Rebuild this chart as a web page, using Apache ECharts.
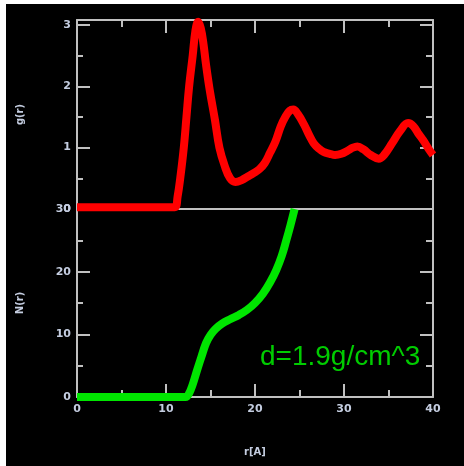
<!DOCTYPE html>
<html>
<head>
<meta charset="utf-8">
<script src="https://cdn.jsdelivr.net/npm/echarts@6/dist/echarts.min.js"></script>
<style>
html,body{margin:0;padding:0;background:#ffffff;width:464px;height:466px;overflow:hidden;}
#c{position:absolute;left:6px;top:4px;width:458px;height:462px;background:#000;}
</style>
</head>
<body>
<div id="c"></div>
<script>
// g(r) data
var rG = [0, 2, 4, 6, 8, 10, 11.0, 11.3, 11.6, 12.0, 12.3, 12.6, 13.0, 13.3, 13.6, 13.9, 14.2, 14.5, 14.9, 15.5, 16.0, 16.6, 17.2, 17.8, 18.5, 19.2, 19.8, 20.5, 21.1, 21.7, 22.3, 22.9, 23.4, 23.9, 24.3, 24.8, 25.5, 26.1, 26.6, 27.2, 27.7, 28.4, 29.0, 29.7, 30.4, 31.0, 31.5, 32.2, 33.0, 33.9, 34.5, 35.4, 36.3, 37.2, 37.8, 38.4, 38.9, 39.5, 40];
var gVals = [0.03, 0.03, 0.03, 0.03, 0.03, 0.03, 0.03, 0.2, 0.5, 1.0, 1.5, 2.0, 2.5, 2.9, 3.05, 2.95, 2.7, 2.35, 1.95, 1.45, 1.0, 0.7, 0.5, 0.44, 0.47, 0.53, 0.58, 0.65, 0.75, 0.92, 1.1, 1.35, 1.5, 1.6, 1.62, 1.55, 1.38, 1.2, 1.07, 0.98, 0.93, 0.9, 0.88, 0.9, 0.95, 1.0, 1.02, 0.97, 0.88, 0.82, 0.88, 1.07, 1.27, 1.40, 1.35, 1.22, 1.12, 0.98, 0.88];
// N(r) data
var rN = [0, 4, 8, 12.2, 12.6, 13.0, 13.5, 14.0, 14.5, 15.0, 15.6, 16.3, 17.2, 18.2, 19.1, 20.0, 20.9, 21.7, 22.4, 23.0, 23.5, 24.0, 24.45];
var nVals = [0, 0, 0, 0, 0.6, 2, 4.3, 6.5, 8.6, 9.9, 10.9, 11.7, 12.4, 13.1, 13.9, 15.0, 16.5, 18.3, 20.3, 22.5, 24.9, 27.5, 30];
// tick labels
var xLabels = [0, 10, 20, 30, 40];
var xMajor = [10, 20, 30];
var xMinor = [5, 15, 25, 35];
var gLabels = [0, 1, 2, 3];
var gMajor = [1, 2, 3];
var gMinor = [0.5, 1.5, 2.5];
var nLabels = [0, 10, 20, 30];
var nMajor = [10, 20];
var nMinor = [5, 15, 25];
var annotation = 'd=1.9g/cm^3';

var AX = '#c0c0c0';
var LBL = '#c4cde0';
var labelFont = {color: LBL, fontFamily: 'DejaVu Sans', fontWeight: 'bold', fontSize: 11};

function xAx(grid, pos, opts) {
  return Object.assign({
    type: 'value', gridIndex: grid, position: pos, min: 0, max: 40,
    axisLine: {show: false, onZero: false, lineStyle: {color: AX, width: 2}},
    axisTick: {show: false},
    axisLabel: {show: false},
    splitLine: {show: false}
  }, opts);
}
function yAx(grid, pos, max, opts) {
  return Object.assign({
    type: 'value', gridIndex: grid, position: pos, min: 0, max: max,
    axisLine: {show: false, onZero: false, lineStyle: {color: AX, width: 2}},
    axisTick: {show: false},
    axisLabel: {show: false},
    splitLine: {show: false}
  }, opts);
}
function ticks(vals, len) {
  return {show: true, inside: true, length: len, customValues: vals, lineStyle: {color: AX, width: 2}};
}
var line = {show: true, onZero: false, lineStyle: {color: AX, width: 2}};

var xAxes = [
  // grid 0
  xAx(0, 'bottom', {axisLine: line}),
  xAx(0, 'top', {axisLine: line, axisTick: ticks(xMajor, 13)}),
  xAx(0, 'top', {axisTick: ticks(xMinor, 7)}),
  // grid 1
  xAx(1, 'bottom', {axisLine: line, axisTick: ticks(xMajor, 13),
    axisLabel: Object.assign({show: true, margin: 7, customValues: xLabels}, labelFont),
    name: 'r[A]', nameLocation: 'middle', nameGap: 50,
    nameTextStyle: {color: LBL, fontFamily: 'DejaVu Sans', fontWeight: 'bold', fontSize: 10}}),
  xAx(1, 'bottom', {axisTick: ticks(xMinor, 7)}),
  xAx(1, 'top', {axisLine: line})
];
var yAxes = [
  // grid 0
  yAx(0, 'left', 3.08, {axisLine: line, axisTick: ticks(gMajor, 13),
    axisLabel: Object.assign({show: true, margin: 6, customValues: gLabels}, labelFont),
    name: 'g(r)', nameLocation: 'middle', nameGap: 52,
    nameTextStyle: {color: LBL, fontFamily: 'DejaVu Sans', fontWeight: 'bold', fontSize: 10}}),
  yAx(0, 'left', 3.08, {axisTick: ticks(gMinor, 6)}),
  yAx(0, 'right', 3.08, {axisLine: line, axisTick: ticks(gMajor, 13)}),
  yAx(0, 'right', 3.08, {axisTick: ticks(gMinor, 7)}),
  // grid 1
  yAx(1, 'left', 30, {axisLine: line, axisTick: ticks(nMajor, 13),
    axisLabel: Object.assign({show: true, margin: 6, customValues: nLabels}, labelFont),
    name: 'N(r)', nameLocation: 'middle', nameGap: 52,
    nameTextStyle: {color: LBL, fontFamily: 'DejaVu Sans', fontWeight: 'bold', fontSize: 10}}),
  yAx(1, 'left', 30, {axisTick: ticks(nMinor, 6)}),
  yAx(1, 'right', 30, {axisLine: line, axisTick: ticks(nMajor, 13)}),
  yAx(1, 'right', 30, {axisTick: ticks(nMinor, 7)})
];

var chart = echarts.init(document.getElementById('c'), null, {renderer: 'canvas'});
chart.setOption({
  backgroundColor: '#000000',
  animation: false,
  grid: [
    {left: 71, top: 16, width: 356, height: 189},
    {left: 71, top: 205, width: 356, height: 188}
  ],
  xAxis: xAxes,
  yAxis: yAxes,
  series: [
    {
      type: 'line', xAxisIndex: 0, yAxisIndex: 0, clip: false,
      data: rG.map(function (r, i) { return [r, gVals[i]]; }),
      showSymbol: false, smooth: 0.4,
      lineStyle: {color: '#ff0000', width: 8}
    },
    {
      type: 'line', xAxisIndex: 3, yAxisIndex: 4, clip: false,
      data: rN.map(function (r, i) { return [r, nVals[i]]; }),
      showSymbol: false, smooth: 0.4,
      lineStyle: {color: '#00e600', width: 8}
    }
  ],
  graphic: [{
    type: 'text', left: 254, top: 339,
    style: {text: annotation, fill: '#00cc00', font: '28px "Liberation Sans"'}
  }]
});
</script>
</body>
</html>
